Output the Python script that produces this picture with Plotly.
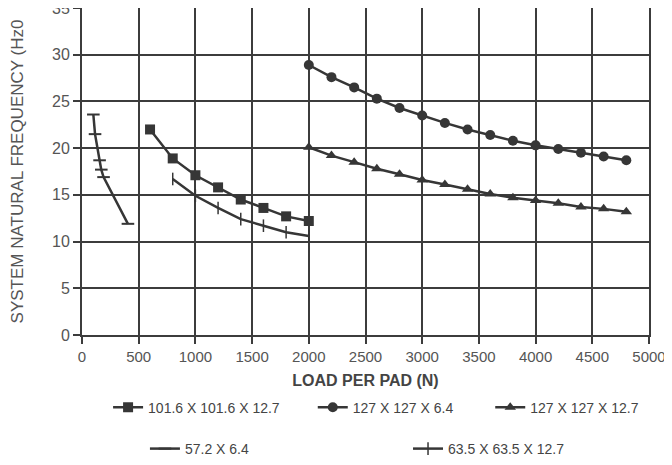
import plotly.graph_objects as go

# ---- data ----
sq_x = [600, 800, 1000, 1200, 1400, 1600, 1800, 2000]
sq_y = [22.0, 18.9, 17.1, 15.8, 14.5, 13.6, 12.7, 12.2]

circ_x = [2000, 2200, 2400, 2600, 2800, 3000, 3200, 3400, 3600, 3800, 4000, 4200, 4400, 4600, 4800]
circ_y = [28.9, 27.6, 26.5, 25.3, 24.3, 23.5, 22.7, 22.0, 21.4, 20.8, 20.3, 19.9, 19.5, 19.1, 18.7]

tri_x = [2000, 2200, 2400, 2600, 2800, 3000, 3200, 3400, 3600, 3800, 4000, 4200, 4400, 4600, 4800]
tri_y = [20.1, 19.2, 18.5, 17.8, 17.2, 16.6, 16.1, 15.6, 15.1, 14.7, 14.4, 14.1, 13.7, 13.5, 13.2]

a57_x = [100, 115, 155, 170, 190, 405]
a57_y = [23.6, 21.5, 18.7, 17.7, 16.9, 11.9]

a63_x = [800, 1000, 1200, 1400, 1600, 1800, 2000]
a63_y = [16.7, 14.9, 13.6, 12.4, 11.7, 11.0, 10.6]

names = ["101.6 X 101.6 X 12.7", "127 X 127 X 6.4", "127 X 127 X 12.7",
         "57.2 X 6.4", "63.5 X 63.5 X 12.7"]

x_ticks = list(range(0, 5001, 500))
y_ticks = list(range(0, 36, 5))

C = "#363636"
G = "#3c3c3c"
FONT = "Liberation Sans, Arial"

fig = go.Figure()
fig.add_trace(go.Scatter(x=sq_x, y=sq_y, name=names[0], mode="lines+markers",
                         line=dict(color=C, width=2.5),
                         marker=dict(symbol="square", size=10, color=C), legend="legend"))
fig.add_trace(go.Scatter(x=circ_x, y=circ_y, name=names[1], mode="lines+markers",
                         line=dict(color=C, width=2.5),
                         marker=dict(symbol="circle", size=10, color=C), legend="legend2"))
fig.add_trace(go.Scatter(x=tri_x, y=tri_y, name=names[2], mode="lines+markers",
                         line=dict(color=C, width=2.5),
                         marker=dict(symbol="triangle-up", size=10, color=C), legend="legend3"))
fig.add_trace(go.Scatter(x=a57_x, y=a57_y, name=names[3], mode="lines+markers",
                         line=dict(color=C, width=2.5),
                         marker=dict(symbol="line-ew", size=9, color=C,
                                     line=dict(color=C, width=2)), legend="legend4"))
fig.add_trace(go.Scatter(x=a63_x, y=a63_y, name=names[4], mode="lines+markers",
                         line=dict(color=C, width=2.5),
                         marker=dict(symbol="line-ns", size=9, color=C,
                                     line=dict(color=C, width=1.5)), legend="legend5"))

axis_common = dict(showgrid=True, gridcolor=G, gridwidth=2,
                   showline=True, linecolor=G, linewidth=2, mirror=True,
                   ticks="outside", ticklen=7, tickcolor=G, tickwidth=2,
                   zeroline=False, automargin=False, ticklabeloverflow="allow")


def leg(x, y):
    return dict(orientation="h", x=x, xanchor="left", y=y, yanchor="middle",
                font=dict(size=14, color="#444"), bgcolor="rgba(0,0,0,0)")


fig.update_layout(
    width=664, height=457,
    margin=dict(l=74, r=23, t=0, b=128),
    paper_bgcolor="white", plot_bgcolor="white",
    font=dict(family=FONT, color="#444"),
    xaxis=dict(range=[0, 5000], tickvals=x_ticks,
               tickfont=dict(family=FONT, size=15, color="#555"),
               title=dict(text="<b>LOAD PER PAD (N)</b>", standoff=11,
                          font=dict(size=16, color="#444")),
               **axis_common),
    yaxis=dict(range=[0, 35], tickvals=y_ticks,
               tickfont=dict(family=FONT, size=16, color="#555"),
               title=dict(text="SYSTEM NATURAL FREQUENCY (Hz0", standoff=24,
                          font=dict(size=17, color="#555")),
               **axis_common),
    legend=leg(0.046, -0.222),
    legend2=leg(0.407, -0.222),
    legend3=leg(0.720, -0.222),
    legend4=leg(0.111, -0.350),
    legend5=leg(0.575, -0.350),
    showlegend=True,
)

fig.write_html("out.html")
